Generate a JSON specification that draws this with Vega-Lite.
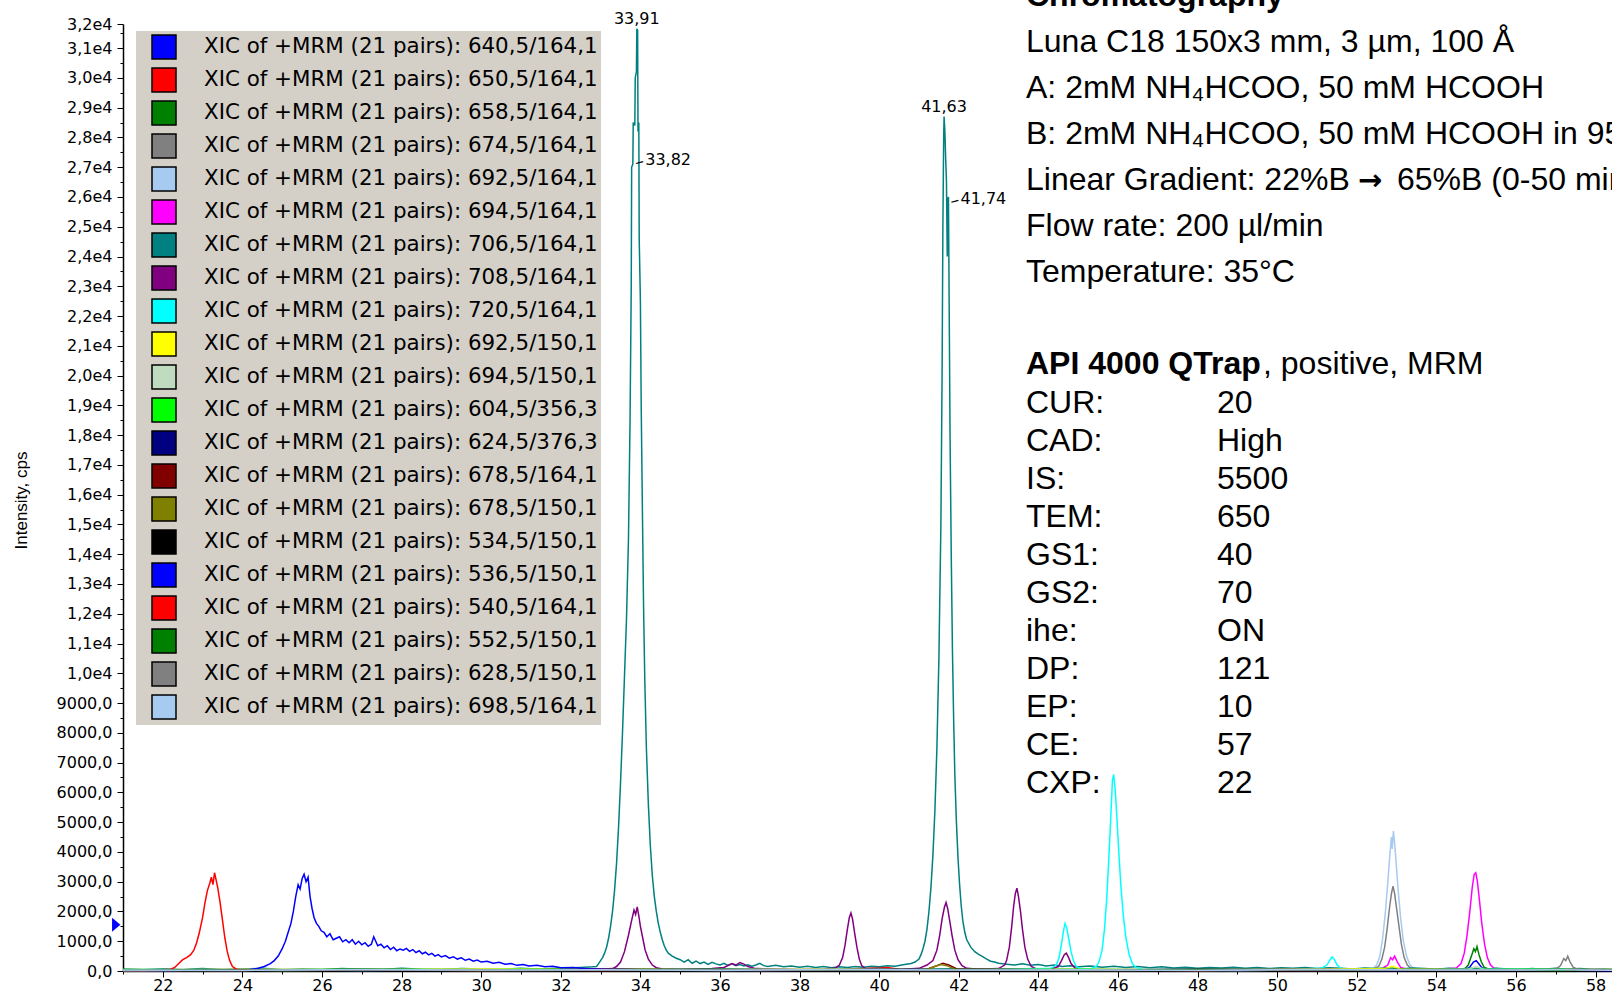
{
"$schema":"https://vega.github.io/schema/vega-lite/v6.json",
"width":1489,"height":947,
"autosize":{"type":"none"},
"padding":{"left":123,"top":24,"right":0,"bottom":23},
"background":"white",
"config":{"view":{"stroke":null},"font":"DejaVu Sans"},
"datasets":{
"series":[{"m":1,"pair":"640,5/164,1"},{"m":2,"pair":"650,5/164,1"},{"m":3,"pair":"658,5/164,1"},{"m":4,"pair":"674,5/164,1"},{"m":5,"pair":"692,5/164,1"},{"m":6,"pair":"694,5/164,1"},{"m":7,"pair":"706,5/164,1"},{"m":8,"pair":"708,5/164,1"},{"m":9,"pair":"720,5/164,1"},{"m":10,"pair":"692,5/150,1"},{"m":11,"pair":"694,5/150,1"},{"m":12,"pair":"604,5/356,3"},{"m":13,"pair":"624,5/376,3"},{"m":14,"pair":"678,5/164,1"},{"m":15,"pair":"678,5/150,1"},{"m":16,"pair":"534,5/150,1"},{"m":17,"pair":"536,5/150,1"},{"m":18,"pair":"540,5/164,1"},{"m":19,"pair":"552,5/150,1"},{"m":20,"pair":"628,5/150,1"},{"m":21,"pair":"698,5/164,1"}],
"traces":[
{"m":1,"t":21,"i":20},{"m":1,"t":25,"i":40},{"m":1,"t":29,"i":30},{"m":1,"t":33,"i":50},{"m":1,"t":37,"i":20},{"m":1,"t":41,"i":40},{"m":1,"t":45,"i":30},{"m":1,"t":49,"i":50},{"m":1,"t":53,"i":20},{"m":1,"t":54.75,"i":50},{"m":1,"t":54.85,"i":150},{"m":1,"t":54.93,"i":300},{"m":1,"t":55.0,"i":350},{"m":1,"t":55.06,"i":250},{"m":1,"t":55.14,"i":110},{"m":1,"t":55.3,"i":40},{"m":1,"t":57,"i":30},{"m":1,"t":58.5,"i":20},
{"m":2,"t":21,"i":20},{"m":2,"t":24,"i":40},{"m":2,"t":27,"i":30},{"m":2,"t":30,"i":50},{"m":2,"t":33,"i":20},{"m":2,"t":36,"i":40},{"m":2,"t":39,"i":60},{"m":2,"t":40.2,"i":120},{"m":2,"t":40.5,"i":60},{"m":2,"t":42,"i":30},{"m":2,"t":45,"i":50},{"m":2,"t":48,"i":40},{"m":2,"t":51,"i":20},{"m":2,"t":54,"i":40},{"m":2,"t":57,"i":30},{"m":2,"t":58.5,"i":50},
{"m":3,"t":21,"i":40},{"m":3,"t":25,"i":20},{"m":3,"t":29,"i":50},{"m":3,"t":33,"i":30},{"m":3,"t":37,"i":40},{"m":3,"t":41,"i":60},{"m":3,"t":45,"i":30},{"m":3,"t":49,"i":50},{"m":3,"t":53,"i":40},{"m":3,"t":54.7,"i":60},{"m":3,"t":54.8,"i":200},{"m":3,"t":54.88,"i":500},{"m":3,"t":54.94,"i":750},{"m":3,"t":54.98,"i":650},{"m":3,"t":55.02,"i":820},{"m":3,"t":55.07,"i":550},{"m":3,"t":55.13,"i":300},{"m":3,"t":55.2,"i":120},{"m":3,"t":55.35,"i":50},{"m":3,"t":57,"i":40},{"m":3,"t":58.5,"i":30},
{"m":4,"t":21,"i":30},{"m":4,"t":25,"i":20},{"m":4,"t":29,"i":40},{"m":4,"t":33,"i":30},{"m":4,"t":37,"i":50},{"m":4,"t":41,"i":20},{"m":4,"t":45,"i":40},{"m":4,"t":49,"i":30},{"m":4,"t":52.4,"i":60},{"m":4,"t":52.55,"i":150},{"m":4,"t":52.63,"i":400},{"m":4,"t":52.7,"i":800},{"m":4,"t":52.76,"i":1400},{"m":4,"t":52.82,"i":2100},{"m":4,"t":52.87,"i":2600},{"m":4,"t":52.91,"i":2850},{"m":4,"t":52.95,"i":2600},{"m":4,"t":53.0,"i":2100},{"m":4,"t":53.06,"i":1500},{"m":4,"t":53.12,"i":900},{"m":4,"t":53.19,"i":450},{"m":4,"t":53.27,"i":200},{"m":4,"t":53.36,"i":90},{"m":4,"t":53.6,"i":40},{"m":4,"t":55,"i":30},{"m":4,"t":57,"i":50},{"m":4,"t":58.5,"i":20},
{"m":5,"t":21,"i":20},{"m":5,"t":26,"i":40},{"m":5,"t":31,"i":30},{"m":5,"t":36,"i":50},{"m":5,"t":41,"i":40},{"m":5,"t":46,"i":30},{"m":5,"t":51,"i":40},{"m":5,"t":52.4,"i":80},{"m":5,"t":52.5,"i":200},{"m":5,"t":52.58,"i":500},{"m":5,"t":52.65,"i":1100},{"m":5,"t":52.72,"i":2000},{"m":5,"t":52.78,"i":3000},{"m":5,"t":52.83,"i":3900},{"m":5,"t":52.87,"i":4500},{"m":5,"t":52.89,"i":4100},{"m":5,"t":52.92,"i":4700},{"m":5,"t":52.95,"i":4300},{"m":5,"t":52.99,"i":3600},{"m":5,"t":53.04,"i":2700},{"m":5,"t":53.1,"i":1800},{"m":5,"t":53.17,"i":1000},{"m":5,"t":53.25,"i":500},{"m":5,"t":53.33,"i":220},{"m":5,"t":53.42,"i":100},{"m":5,"t":53.6,"i":50},{"m":5,"t":55,"i":40},{"m":5,"t":57,"i":60},{"m":5,"t":58.5,"i":30},
{"m":6,"t":21,"i":20},{"m":6,"t":25,"i":40},{"m":6,"t":30,"i":30},{"m":6,"t":35,"i":50},{"m":6,"t":40,"i":40},{"m":6,"t":45,"i":30},{"m":6,"t":50,"i":50},{"m":6,"t":52.6,"i":60},{"m":6,"t":52.78,"i":200},{"m":6,"t":52.85,"i":450},{"m":6,"t":52.9,"i":380},{"m":6,"t":52.95,"i":500},{"m":6,"t":53.02,"i":300},{"m":6,"t":53.1,"i":120},{"m":6,"t":53.3,"i":50},{"m":6,"t":54.0,"i":40},{"m":6,"t":54.5,"i":100},{"m":6,"t":54.62,"i":250},{"m":6,"t":54.7,"i":600},{"m":6,"t":54.77,"i":1200},{"m":6,"t":54.84,"i":2000},{"m":6,"t":54.9,"i":2800},{"m":6,"t":54.95,"i":3250},{"m":6,"t":54.99,"i":3300},{"m":6,"t":55.03,"i":3000},{"m":6,"t":55.08,"i":2400},{"m":6,"t":55.14,"i":1600},{"m":6,"t":55.21,"i":900},{"m":6,"t":55.28,"i":450},{"m":6,"t":55.36,"i":200},{"m":6,"t":55.45,"i":90},{"m":6,"t":55.7,"i":50},{"m":6,"t":56.5,"i":40},{"m":6,"t":57.5,"i":60},{"m":6,"t":58.5,"i":30},
{"m":7,"t":21.0,"i":60},{"m":7,"t":21.5,"i":40},{"m":7,"t":22.0,"i":70},{"m":7,"t":22.5,"i":50},{"m":7,"t":23.0,"i":80},{"m":7,"t":23.5,"i":40},{"m":7,"t":24.0,"i":60},{"m":7,"t":24.5,"i":90},{"m":7,"t":25.0,"i":50},{"m":7,"t":25.5,"i":70},{"m":7,"t":26.0,"i":40},{"m":7,"t":26.5,"i":80},{"m":7,"t":27.0,"i":60},{"m":7,"t":27.5,"i":50},{"m":7,"t":28.0,"i":90},{"m":7,"t":28.5,"i":60},{"m":7,"t":29.0,"i":40},{"m":7,"t":29.5,"i":80},{"m":7,"t":30.0,"i":70},{"m":7,"t":30.5,"i":50},{"m":7,"t":31.0,"i":90},{"m":7,"t":31.5,"i":60},{"m":7,"t":32.0,"i":100},{"m":7,"t":32.5,"i":120},{"m":7,"t":32.8,"i":140},
{"m":7,"t":32.9,"i":150},{"m":7,"t":32.95,"i":250},{"m":7,"t":33.0,"i":350},{"m":7,"t":33.05,"i":450},{"m":7,"t":33.1,"i":600},{"m":7,"t":33.15,"i":800},{"m":7,"t":33.2,"i":1100},{"m":7,"t":33.25,"i":1500},{"m":7,"t":33.3,"i":2000},{"m":7,"t":33.35,"i":2700},{"m":7,"t":33.4,"i":3600},{"m":7,"t":33.45,"i":4800},{"m":7,"t":33.5,"i":6300},{"m":7,"t":33.55,"i":8000},{"m":7,"t":33.6,"i":9900},{"m":7,"t":33.65,"i":11800},{"m":7,"t":33.7,"i":14500},{"m":7,"t":33.74,"i":18500},{"m":7,"t":33.77,"i":23000},{"m":7,"t":33.78,"i":27000},{"m":7,"t":33.81,"i":27100},{"m":7,"t":33.82,"i":28500},{"m":7,"t":33.86,"i":28400},{"m":7,"t":33.87,"i":30000},{"m":7,"t":33.9,"i":30200},{"m":7,"t":33.91,"i":31650},{"m":7,"t":33.93,"i":31600},{"m":7,"t":33.94,"i":28200},{"m":7,"t":33.96,"i":28500},{"m":7,"t":33.97,"i":24600},{"m":7,"t":34.0,"i":22500},{"m":7,"t":34.02,"i":19000},{"m":7,"t":34.05,"i":15500},{"m":7,"t":34.08,"i":12200},{"m":7,"t":34.11,"i":9800},{"m":7,"t":34.15,"i":7500},{"m":7,"t":34.2,"i":5600},{"m":7,"t":34.25,"i":4200},{"m":7,"t":34.3,"i":3200},{"m":7,"t":34.35,"i":2500},{"m":7,"t":34.4,"i":2000},{"m":7,"t":34.45,"i":1600},{"m":7,"t":34.5,"i":1300},{"m":7,"t":34.55,"i":1050},{"m":7,"t":34.6,"i":850},{"m":7,"t":34.65,"i":700},{"m":7,"t":34.7,"i":600},{"m":7,"t":34.8,"i":500},{"m":7,"t":34.9,"i":430},{"m":7,"t":35.0,"i":380},{"m":7,"t":35.1,"i":300},{"m":7,"t":35.2,"i":380},{"m":7,"t":35.3,"i":260},{"m":7,"t":35.4,"i":330},{"m":7,"t":35.5,"i":250},{"m":7,"t":35.6,"i":300},{"m":7,"t":35.7,"i":220},{"m":7,"t":35.8,"i":290},{"m":7,"t":35.9,"i":240},{"m":7,"t":36.0,"i":200},{"m":7,"t":36.1,"i":260},{"m":7,"t":36.2,"i":190},{"m":7,"t":36.3,"i":240},{"m":7,"t":36.4,"i":180},{"m":7,"t":36.5,"i":220},{"m":7,"t":36.6,"i":170},{"m":7,"t":36.7,"i":210},{"m":7,"t":36.8,"i":160},{"m":7,"t":36.9,"i":200},{"m":7,"t":37.0,"i":260},{"m":7,"t":37.1,"i":180},{"m":7,"t":37.2,"i":150},{"m":7,"t":37.4,"i":190},{"m":7,"t":37.6,"i":140},{"m":7,"t":37.8,"i":170},{"m":7,"t":38.0,"i":130},{"m":7,"t":38.2,"i":160},{"m":7,"t":38.4,"i":120},{"m":7,"t":38.6,"i":150},{"m":7,"t":38.8,"i":110},{"m":7,"t":39.0,"i":140},{"m":7,"t":39.2,"i":120},{"m":7,"t":39.4,"i":150},{"m":7,"t":39.6,"i":130},{"m":7,"t":39.8,"i":160},{"m":7,"t":40.0,"i":140},{"m":7,"t":40.2,"i":180},{"m":7,"t":40.4,"i":160},{"m":7,"t":40.6,"i":210},{"m":7,"t":40.8,"i":250},{"m":7,"t":40.9,"i":300},
{"m":7,"t":41.0,"i":400},{"m":7,"t":41.05,"i":550},{"m":7,"t":41.1,"i":750},{"m":7,"t":41.15,"i":1000},{"m":7,"t":41.2,"i":1400},{"m":7,"t":41.25,"i":2000},{"m":7,"t":41.3,"i":2800},{"m":7,"t":41.35,"i":3900},{"m":7,"t":41.4,"i":5400},{"m":7,"t":41.45,"i":7500},{"m":7,"t":41.5,"i":10500},{"m":7,"t":41.55,"i":15000},{"m":7,"t":41.58,"i":20000},{"m":7,"t":41.6,"i":25000},{"m":7,"t":41.62,"i":28000},{"m":7,"t":41.63,"i":28700},{"m":7,"t":41.65,"i":28200},{"m":7,"t":41.67,"i":27300},{"m":7,"t":41.69,"i":26500},{"m":7,"t":41.71,"i":24000},{"m":7,"t":41.72,"i":25900},{"m":7,"t":41.74,"i":26000},{"m":7,"t":41.76,"i":22000},{"m":7,"t":41.78,"i":18000},{"m":7,"t":41.81,"i":14000},{"m":7,"t":41.84,"i":10800},{"m":7,"t":41.87,"i":8500},{"m":7,"t":41.9,"i":6600},{"m":7,"t":41.94,"i":5000},{"m":7,"t":41.98,"i":3800},{"m":7,"t":42.02,"i":2900},{"m":7,"t":42.06,"i":2200},{"m":7,"t":42.1,"i":1700},{"m":7,"t":42.15,"i":1300},{"m":7,"t":42.2,"i":1050},{"m":7,"t":42.3,"i":800},{"m":7,"t":42.4,"i":650},{"m":7,"t":42.5,"i":560},{"m":7,"t":42.6,"i":480},{"m":7,"t":42.7,"i":400},{"m":7,"t":42.8,"i":330},{"m":7,"t":42.9,"i":300},{"m":7,"t":43.0,"i":260},
{"m":7,"t":43.2,"i":230},{"m":7,"t":43.4,"i":200},{"m":7,"t":43.6,"i":240},{"m":7,"t":43.8,"i":190},{"m":7,"t":44.0,"i":220},{"m":7,"t":44.2,"i":170},{"m":7,"t":44.4,"i":200},{"m":7,"t":44.6,"i":150},{"m":7,"t":44.8,"i":180},{"m":7,"t":45.0,"i":140},{"m":7,"t":45.3,"i":170},{"m":7,"t":45.6,"i":130},{"m":7,"t":45.9,"i":160},{"m":7,"t":46.2,"i":120},{"m":7,"t":46.5,"i":150},{"m":7,"t":46.8,"i":110},{"m":7,"t":47.1,"i":140},{"m":7,"t":47.4,"i":100},{"m":7,"t":47.7,"i":130},{"m":7,"t":48.0,"i":90},{"m":7,"t":48.3,"i":120},{"m":7,"t":48.6,"i":100},{"m":7,"t":48.9,"i":130},{"m":7,"t":49.2,"i":90},{"m":7,"t":49.5,"i":120},{"m":7,"t":49.8,"i":80},{"m":7,"t":50.1,"i":110},{"m":7,"t":50.4,"i":90},{"m":7,"t":50.7,"i":120},{"m":7,"t":51.0,"i":80},{"m":7,"t":51.3,"i":110},{"m":7,"t":51.6,"i":90},{"m":7,"t":51.9,"i":70},{"m":7,"t":52.2,"i":100},{"m":7,"t":52.5,"i":80},{"m":7,"t":52.8,"i":110},{"m":7,"t":53.1,"i":70},{"m":7,"t":53.4,"i":100},{"m":7,"t":53.7,"i":80},{"m":7,"t":54.0,"i":60},{"m":7,"t":54.3,"i":90},{"m":7,"t":54.6,"i":70},{"m":7,"t":54.9,"i":100},{"m":7,"t":55.2,"i":60},{"m":7,"t":55.5,"i":90},{"m":7,"t":55.8,"i":70},{"m":7,"t":56.1,"i":50},{"m":7,"t":56.4,"i":80},{"m":7,"t":56.7,"i":60},{"m":7,"t":57.0,"i":90},{"m":7,"t":57.3,"i":50},{"m":7,"t":57.6,"i":80},{"m":7,"t":57.9,"i":60},{"m":7,"t":58.2,"i":70},{"m":7,"t":58.5,"i":50},
{"m":8,"t":21,"i":20},{"m":8,"t":24,"i":40},{"m":8,"t":27,"i":30},{"m":8,"t":30,"i":50},{"m":8,"t":32,"i":40},{"m":8,"t":33.0,"i":60},{"m":8,"t":33.3,"i":80},{"m":8,"t":33.4,"i":150},{"m":8,"t":33.5,"i":300},{"m":8,"t":33.6,"i":650},{"m":8,"t":33.7,"i":1200},{"m":8,"t":33.78,"i":1700},{"m":8,"t":33.84,"i":2050},{"m":8,"t":33.88,"i":1900},{"m":8,"t":33.92,"i":2150},{"m":8,"t":33.96,"i":1850},{"m":8,"t":34.0,"i":1500},{"m":8,"t":34.06,"i":1100},{"m":8,"t":34.12,"i":700},{"m":8,"t":34.2,"i":400},{"m":8,"t":34.3,"i":200},{"m":8,"t":34.4,"i":110},{"m":8,"t":34.55,"i":70},{"m":8,"t":35.0,"i":50},{"m":8,"t":35.8,"i":80},{"m":8,"t":36.1,"i":120},{"m":8,"t":36.3,"i":250},{"m":8,"t":36.4,"i":200},{"m":8,"t":36.5,"i":280},{"m":8,"t":36.6,"i":230},{"m":8,"t":36.7,"i":150},{"m":8,"t":36.9,"i":80},{"m":8,"t":37.5,"i":60},{"m":8,"t":38.0,"i":40},{"m":8,"t":38.6,"i":60},{"m":8,"t":38.9,"i":100},{"m":8,"t":39.0,"i":200},{"m":8,"t":39.08,"i":450},{"m":8,"t":39.14,"i":850},{"m":8,"t":39.2,"i":1400},{"m":8,"t":39.25,"i":1800},{"m":8,"t":39.29,"i":1950},{"m":8,"t":39.33,"i":1750},{"m":8,"t":39.38,"i":1300},{"m":8,"t":39.44,"i":800},{"m":8,"t":39.5,"i":400},{"m":8,"t":39.56,"i":180},{"m":8,"t":39.65,"i":80},{"m":8,"t":40.0,"i":50},{"m":8,"t":40.6,"i":60},{"m":8,"t":41.0,"i":90},{"m":8,"t":41.2,"i":200},{"m":8,"t":41.35,"i":350},{"m":8,"t":41.45,"i":700},{"m":8,"t":41.52,"i":1200},{"m":8,"t":41.58,"i":1750},{"m":8,"t":41.64,"i":2150},{"m":8,"t":41.68,"i":2300},{"m":8,"t":41.72,"i":2100},{"m":8,"t":41.77,"i":1700},{"m":8,"t":41.83,"i":1200},{"m":8,"t":41.9,"i":700},{"m":8,"t":41.98,"i":380},{"m":8,"t":42.08,"i":180},{"m":8,"t":42.2,"i":90},{"m":8,"t":42.5,"i":60},{"m":8,"t":43.0,"i":80},{"m":8,"t":43.15,"i":200},{"m":8,"t":43.2,"i":350},{"m":8,"t":43.27,"i":800},{"m":8,"t":43.33,"i":1500},{"m":8,"t":43.38,"i":2200},{"m":8,"t":43.42,"i":2600},{"m":8,"t":43.46,"i":2780},{"m":8,"t":43.5,"i":2500},{"m":8,"t":43.55,"i":2000},{"m":8,"t":43.6,"i":1400},{"m":8,"t":43.66,"i":800},{"m":8,"t":43.73,"i":400},{"m":8,"t":43.82,"i":150},{"m":8,"t":43.95,"i":70},{"m":8,"t":44.3,"i":60},{"m":8,"t":44.5,"i":150},{"m":8,"t":44.58,"i":350},{"m":8,"t":44.65,"i":550},{"m":8,"t":44.7,"i":600},{"m":8,"t":44.76,"i":450},{"m":8,"t":44.82,"i":250},{"m":8,"t":44.92,"i":100},{"m":8,"t":45.1,"i":50},{"m":8,"t":46,"i":40},{"m":8,"t":48,"i":60},{"m":8,"t":50,"i":30},{"m":8,"t":52,"i":50},{"m":8,"t":54,"i":40},{"m":8,"t":56,"i":60},{"m":8,"t":58.5,"i":40},
{"m":9,"t":21,"i":30},{"m":9,"t":24,"i":50},{"m":9,"t":27,"i":20},{"m":9,"t":30,"i":60},{"m":9,"t":33,"i":40},{"m":9,"t":36,"i":50},{"m":9,"t":39,"i":30},{"m":9,"t":42,"i":60},{"m":9,"t":44.3,"i":80},{"m":9,"t":44.45,"i":200},{"m":9,"t":44.52,"i":450},{"m":9,"t":44.58,"i":900},{"m":9,"t":44.63,"i":1350},{"m":9,"t":44.67,"i":1600},{"m":9,"t":44.71,"i":1450},{"m":9,"t":44.76,"i":1100},{"m":9,"t":44.82,"i":650},{"m":9,"t":44.88,"i":350},{"m":9,"t":44.95,"i":150},{"m":9,"t":45.05,"i":80},{"m":9,"t":45.3,"i":70},{"m":9,"t":45.45,"i":150},{"m":9,"t":45.52,"i":300},{"m":9,"t":45.6,"i":700},{"m":9,"t":45.66,"i":1400},{"m":9,"t":45.72,"i":2500},{"m":9,"t":45.77,"i":3800},{"m":9,"t":45.82,"i":5200},{"m":9,"t":45.86,"i":6400},{"m":9,"t":45.89,"i":6600},{"m":9,"t":45.93,"i":6100},{"m":9,"t":45.97,"i":5200},{"m":9,"t":46.02,"i":4000},{"m":9,"t":46.07,"i":2900},{"m":9,"t":46.13,"i":1900},{"m":9,"t":46.2,"i":1100},{"m":9,"t":46.28,"i":550},{"m":9,"t":46.36,"i":250},{"m":9,"t":46.45,"i":120},{"m":9,"t":46.6,"i":60},{"m":9,"t":47.5,"i":50},{"m":9,"t":49,"i":40},{"m":9,"t":50.5,"i":60},{"m":9,"t":51.1,"i":90},{"m":9,"t":51.25,"i":200},{"m":9,"t":51.33,"i":380},{"m":9,"t":51.38,"i":470},{"m":9,"t":51.43,"i":400},{"m":9,"t":51.5,"i":220},{"m":9,"t":51.6,"i":80},{"m":9,"t":52.5,"i":50},{"m":9,"t":54,"i":40},{"m":9,"t":56,"i":60},{"m":9,"t":58.5,"i":30},
{"m":10,"t":21,"i":30},{"m":10,"t":24,"i":60},{"m":10,"t":27,"i":40},{"m":10,"t":30,"i":70},{"m":10,"t":33,"i":50},{"m":10,"t":36,"i":40},{"m":10,"t":39,"i":60},{"m":10,"t":42,"i":30},{"m":10,"t":45,"i":50},{"m":10,"t":48,"i":40},{"m":10,"t":51,"i":60},{"m":10,"t":52.7,"i":80},{"m":10,"t":52.9,"i":160},{"m":10,"t":53.1,"i":70},{"m":10,"t":55,"i":40},{"m":10,"t":58.5,"i":50},
{"m":11,"t":21,"i":20},{"m":11,"t":25,"i":50},{"m":11,"t":29,"i":30},{"m":11,"t":33,"i":40},{"m":11,"t":37,"i":60},{"m":11,"t":41,"i":30},{"m":11,"t":45,"i":50},{"m":11,"t":49,"i":20},{"m":11,"t":53,"i":40},{"m":11,"t":54.8,"i":60},{"m":11,"t":55.0,"i":150},{"m":11,"t":55.2,"i":60},{"m":11,"t":57,"i":40},{"m":11,"t":58.5,"i":20},
{"m":12,"t":21,"i":50},{"m":12,"t":24,"i":30},{"m":12,"t":27,"i":60},{"m":12,"t":30,"i":40},{"m":12,"t":33,"i":70},{"m":12,"t":36,"i":30},{"m":12,"t":39,"i":50},{"m":12,"t":42,"i":40},{"m":12,"t":45,"i":60},{"m":12,"t":48,"i":30},{"m":12,"t":51,"i":50},{"m":12,"t":54,"i":40},{"m":12,"t":57,"i":60},{"m":12,"t":58.5,"i":30},
{"m":13,"t":21,"i":30},{"m":13,"t":24,"i":50},{"m":13,"t":27,"i":20},{"m":13,"t":30,"i":40},{"m":13,"t":33,"i":30},{"m":13,"t":36,"i":50},{"m":13,"t":39,"i":20},{"m":13,"t":42,"i":60},{"m":13,"t":45,"i":30},{"m":13,"t":48,"i":50},{"m":13,"t":51,"i":20},{"m":13,"t":54,"i":40},{"m":13,"t":57,"i":30},{"m":13,"t":58.5,"i":40},
{"m":14,"t":21,"i":40},{"m":14,"t":24,"i":20},{"m":14,"t":27,"i":50},{"m":14,"t":30,"i":30},{"m":14,"t":33,"i":60},{"m":14,"t":36,"i":40},{"m":14,"t":39,"i":30},{"m":14,"t":41.2,"i":60},{"m":14,"t":41.45,"i":180},{"m":14,"t":41.6,"i":260},{"m":14,"t":41.75,"i":200},{"m":14,"t":41.95,"i":70},{"m":14,"t":44,"i":40},{"m":14,"t":47,"i":30},{"m":14,"t":50,"i":50},{"m":14,"t":53,"i":30},{"m":14,"t":56,"i":40},{"m":14,"t":58.5,"i":20},
{"m":15,"t":21,"i":20},{"m":15,"t":25,"i":40},{"m":15,"t":29,"i":30},{"m":15,"t":33,"i":50},{"m":15,"t":37,"i":20},{"m":15,"t":41.2,"i":50},{"m":15,"t":41.4,"i":150},{"m":15,"t":41.55,"i":220},{"m":15,"t":41.7,"i":180},{"m":15,"t":41.9,"i":60},{"m":15,"t":45,"i":40},{"m":15,"t":49,"i":20},{"m":15,"t":53,"i":50},{"m":15,"t":57,"i":30},{"m":15,"t":58.5,"i":40},
{"m":16,"t":21,"i":10},{"m":16,"t":24,"i":30},{"m":16,"t":27,"i":20},{"m":16,"t":30,"i":40},{"m":16,"t":33,"i":20},{"m":16,"t":36,"i":30},{"m":16,"t":39,"i":10},{"m":16,"t":42,"i":30},{"m":16,"t":45,"i":20},{"m":16,"t":48,"i":40},{"m":16,"t":51,"i":20},{"m":16,"t":54,"i":30},{"m":16,"t":57,"i":10},{"m":16,"t":58.5,"i":20},
{"m":17,"t":21,"i":30},{"m":17,"t":22,"i":20},{"m":17,"t":23,"i":40},{"m":17,"t":23.8,"i":30},{"m":17,"t":24.2,"i":50},{"m":17,"t":24.4,"i":90},{"m":17,"t":24.55,"i":150},{"m":17,"t":24.7,"i":250},{"m":17,"t":24.8,"i":350},{"m":17,"t":24.9,"i":500},{"m":17,"t":25.0,"i":750},{"m":17,"t":25.08,"i":1000},{"m":17,"t":25.15,"i":1300},{"m":17,"t":25.22,"i":1600},{"m":17,"t":25.28,"i":2000},{"m":17,"t":25.34,"i":2500},{"m":17,"t":25.4,"i":2900},{"m":17,"t":25.45,"i":2750},{"m":17,"t":25.5,"i":3100},{"m":17,"t":25.55,"i":3250},{"m":17,"t":25.6,"i":3000},{"m":17,"t":25.65,"i":3150},{"m":17,"t":25.7,"i":2500},{"m":17,"t":25.75,"i":2100},{"m":17,"t":25.8,"i":1800},{"m":17,"t":25.86,"i":1600},{"m":17,"t":25.92,"i":1500},{"m":17,"t":25.98,"i":1350},{"m":17,"t":26.05,"i":1300},{"m":17,"t":26.12,"i":1150},{"m":17,"t":26.2,"i":1250},{"m":17,"t":26.28,"i":1050},{"m":17,"t":26.36,"i":1100},{"m":17,"t":26.44,"i":1150},{"m":17,"t":26.52,"i":980},{"m":17,"t":26.6,"i":1050},{"m":17,"t":26.68,"i":950},{"m":17,"t":26.76,"i":1050},{"m":17,"t":26.84,"i":900},{"m":17,"t":26.92,"i":1000},{"m":17,"t":27.0,"i":880},{"m":17,"t":27.08,"i":950},{"m":17,"t":27.16,"i":830},{"m":17,"t":27.24,"i":900},{"m":17,"t":27.3,"i":1150},{"m":17,"t":27.4,"i":850},{"m":17,"t":27.48,"i":900},{"m":17,"t":27.56,"i":780},{"m":17,"t":27.64,"i":850},{"m":17,"t":27.72,"i":720},{"m":17,"t":27.8,"i":800},{"m":17,"t":27.88,"i":680},{"m":17,"t":27.96,"i":740},{"m":17,"t":28.04,"i":700},{"m":17,"t":28.12,"i":760},{"m":17,"t":28.2,"i":660},{"m":17,"t":28.28,"i":720},{"m":17,"t":28.36,"i":620},{"m":17,"t":28.44,"i":680},{"m":17,"t":28.52,"i":580},{"m":17,"t":28.6,"i":630},{"m":17,"t":28.68,"i":540},{"m":17,"t":28.76,"i":590},{"m":17,"t":28.84,"i":500},{"m":17,"t":28.92,"i":550},{"m":17,"t":29.0,"i":470},{"m":17,"t":29.1,"i":520},{"m":17,"t":29.2,"i":430},{"m":17,"t":29.3,"i":480},{"m":17,"t":29.4,"i":400},{"m":17,"t":29.5,"i":440},{"m":17,"t":29.6,"i":360},{"m":17,"t":29.7,"i":400},{"m":17,"t":29.8,"i":330},{"m":17,"t":29.9,"i":370},{"m":17,"t":30.0,"i":300},{"m":17,"t":30.15,"i":330},{"m":17,"t":30.3,"i":260},{"m":17,"t":30.45,"i":290},{"m":17,"t":30.6,"i":230},{"m":17,"t":30.75,"i":250},{"m":17,"t":30.9,"i":190},{"m":17,"t":31.05,"i":220},{"m":17,"t":31.2,"i":170},{"m":17,"t":31.4,"i":190},{"m":17,"t":31.6,"i":140},{"m":17,"t":31.8,"i":160},{"m":17,"t":32.0,"i":110},{"m":17,"t":32.3,"i":120},{"m":17,"t":32.6,"i":80},{"m":17,"t":33.0,"i":70},{"m":17,"t":34,"i":40},{"m":17,"t":37,"i":30},{"m":17,"t":40,"i":50},{"m":17,"t":43,"i":30},{"m":17,"t":46,"i":40},{"m":17,"t":49,"i":20},{"m":17,"t":52,"i":30},{"m":17,"t":55,"i":40},{"m":17,"t":58.5,"i":20},
{"m":18,"t":21,"i":30},{"m":18,"t":21.5,"i":20},{"m":18,"t":22.0,"i":40},{"m":18,"t":22.2,"i":60},{"m":18,"t":22.3,"i":120},{"m":18,"t":22.4,"i":250},{"m":18,"t":22.5,"i":380},{"m":18,"t":22.6,"i":450},{"m":18,"t":22.7,"i":550},{"m":18,"t":22.78,"i":700},{"m":18,"t":22.85,"i":950},{"m":18,"t":22.92,"i":1300},{"m":18,"t":23.0,"i":1800},{"m":18,"t":23.06,"i":2300},{"m":18,"t":23.12,"i":2700},{"m":18,"t":23.18,"i":2950},{"m":18,"t":23.22,"i":3150},{"m":18,"t":23.26,"i":2900},{"m":18,"t":23.3,"i":3300},{"m":18,"t":23.34,"i":3050},{"m":18,"t":23.38,"i":2800},{"m":18,"t":23.44,"i":2300},{"m":18,"t":23.5,"i":1700},{"m":18,"t":23.56,"i":1100},{"m":18,"t":23.62,"i":650},{"m":18,"t":23.68,"i":350},{"m":18,"t":23.75,"i":150},{"m":18,"t":23.85,"i":60},{"m":18,"t":24.0,"i":30},{"m":18,"t":27,"i":40},{"m":18,"t":30,"i":20},{"m":18,"t":33,"i":50},{"m":18,"t":36,"i":30},{"m":18,"t":39,"i":40},{"m":18,"t":42,"i":30},{"m":18,"t":45,"i":40},{"m":18,"t":48,"i":20},{"m":18,"t":51,"i":50},{"m":18,"t":54,"i":30},{"m":18,"t":57,"i":40},{"m":18,"t":58.5,"i":20},
{"m":19,"t":21,"i":50},{"m":19,"t":24,"i":30},{"m":19,"t":27,"i":60},{"m":19,"t":30,"i":20},{"m":19,"t":33,"i":40},{"m":19,"t":36,"i":60},{"m":19,"t":39,"i":30},{"m":19,"t":42,"i":50},{"m":19,"t":45,"i":20},{"m":19,"t":48,"i":60},{"m":19,"t":51,"i":30},{"m":19,"t":54,"i":50},{"m":19,"t":57,"i":20},{"m":19,"t":58.5,"i":40},
{"m":20,"t":21,"i":10},{"m":20,"t":26,"i":30},{"m":20,"t":31,"i":20},{"m":20,"t":36,"i":40},{"m":20,"t":41,"i":30},{"m":20,"t":46,"i":20},{"m":20,"t":51,"i":40},{"m":20,"t":56,"i":30},{"m":20,"t":57.0,"i":60},{"m":20,"t":57.12,"i":180},{"m":20,"t":57.2,"i":420},{"m":20,"t":57.25,"i":350},{"m":20,"t":57.3,"i":500},{"m":20,"t":57.36,"i":300},{"m":20,"t":57.44,"i":120},{"m":20,"t":57.6,"i":40},{"m":20,"t":58.5,"i":30},
{"m":21,"t":21,"i":30},{"m":21,"t":24,"i":20},{"m":21,"t":27,"i":50},{"m":21,"t":30,"i":30},{"m":21,"t":33,"i":40},{"m":21,"t":36,"i":20},{"m":21,"t":39,"i":50},{"m":21,"t":42,"i":30},{"m":21,"t":45,"i":40},{"m":21,"t":48,"i":20},{"m":21,"t":51,"i":50},{"m":21,"t":54,"i":30},{"m":21,"t":57,"i":40},{"m":21,"t":58.5,"i":20}
],
"apexes":[{"t":33.91,"i":31650,"lab":"33,91"},{"t":41.63,"i":28700,"lab":"41,63"}],
"shoulders":[{"t":33.82,"i":27100,"lab":"33,82"},{"t":41.74,"i":25800,"lab":"41,74"}],
"marker":[{"t":20.83,"i":1550}],
"chrom":[
{"line":0,"txt":"Chromatography","role":"heading"},
{"line":1,"txt":"Luna C18 150x3 mm, 3 µm, 100 Å","role":"body"},
{"line":2,"txt":"A: 2mM NH₄HCOO, 50 mM HCOOH","role":"body"},
{"line":3,"txt":"B: 2mM NH₄HCOO, 50 mM HCOOH in 95","role":"body"},
{"line":4,"txt":"Linear Gradient: 22%B","role":"body"},
{"line":4,"txt":"→","role":"arrow"},
{"line":4,"txt":"65%B (0-50 min)","role":"continuation"},
{"line":5,"txt":"Flow rate: 200 µl/min","role":"body"},
{"line":6,"txt":"Temperature: 35°C","role":"body"},
{"line":8,"txt":"API 4000 QTrap","role":"heading"},
{"line":8,"txt":", positive, MRM","role":"note"}
],
"params":[{"j":0,"k":"CUR:","v":"20"},{"j":1,"k":"CAD:","v":"High"},{"j":2,"k":"IS:","v":"5500"},{"j":3,"k":"TEM:","v":"650"},{"j":4,"k":"GS1:","v":"40"},{"j":5,"k":"GS2:","v":"70"},{"j":6,"k":"ihe:","v":"ON"},{"j":7,"k":"DP:","v":"121"},{"j":8,"k":"EP:","v":"10"},{"j":9,"k":"CE:","v":"57"},{"j":10,"k":"CXP:","v":"22"}]
},
"layer":[
{
"encoding":{
"x":{"field":"t","type":"quantitative","scale":{"domain":[21,58.412],"nice":false,"zero":false},
"axis":{"title":null,"values":[21,22,23,24,25,26,27,28,29,30,31,32,33,34,35,36,37,38,39,40,41,42,43,44,45,46,47,48,49,50,51,52,53,54,55,56,57,58],
"labelExpr":"datum.value % 2 === 0 ? format(datum.value, 'd') : ''",
"tickSize":{"condition":{"test":"datum.value % 2 === 0","value":6},"value":3},
"tickColor":"#000000","tickWidth":1,"domainColor":"#000000","domainWidth":1.5,
"labelFont":"DejaVu Sans","labelFontSize":16,"labelColor":"#000000","labelPadding":0,"labelBaseline":"top",
"labelOverlap":false,"labelFlush":false,"grid":false}},
"y":{"field":"i","type":"quantitative","scale":{"domain":[0,31810],"nice":false,"zero":false},
"axis":{"values":[0,500,1000,1500,2000,2500,3000,3500,4000,4500,5000,5500,6000,6500,7000,7500,8000,8500,9000,9500,10000,10500,11000,11500,12000,12500,13000,13500,14000,14500,15000,15500,16000,16500,17000,17500,18000,18500,19000,19500,20000,20500,21000,21500,22000,22500,23000,23500,24000,24500,25000,25500,26000,26500,27000,27500,28000,28500,29000,29500,30000,30500,31000,31500,31810],
"labelExpr":"datum.value > 31600 ? '3,2e4' : (datum.value % 1000 !== 0 ? '' : (datum.value < 10000 ? replace(format(datum.value, '.1f'), '.', ',') : replace(format(datum.value / 10000, '.1f'), '.', ',') + 'e4'))",
"tickSize":{"condition":{"test":"datum.value % 1000 === 0 || datum.value > 31600","value":6},"value":3},
"tickColor":"#000000","tickWidth":1,"domainColor":"#000000","domainWidth":1.5,
"labelFont":"DejaVu Sans","labelFontSize":16,"labelColor":"#000000","labelPadding":5,
"labelOverlap":false,"labelFlush":false,"grid":false,
"title":"Intensity, cps","titleFont":"Liberation Sans","titleFontSize":17,"titleFontWeight":"normal","titleColor":"#000000",
"titleX":-102,"titleY":476,"titleAngle":-90,"titleAlign":"center","titleBaseline":"middle"}}
},
"layer":[
{"data":{"name":"traces"},
"mark":{"type":"line","strokeWidth":1.5},
"encoding":{"stroke":{"field":"m","type":"nominal",
"scale":{"domain":[1,2,3,4,5,6,7,8,9,10,11,12,13,14,15,16,17,18,19,20,21],
"range":["#0000ff","#ff0000","#008000","#808080","#a6caf0","#ff00ff","#008080","#800080","#00ffff","#ffff00","#c0dcc0","#00ff00","#000080","#800000","#808000","#000000","#0000ff","#ff0000","#008000","#808080","#a6caf0"]},
"legend":null}}},
{"data":{"name":"series"},
"transform":[{"filter":"false"}],
"mark":{"type":"square","filled":true,"opacity":1,"stroke":"#000000","strokeWidth":1.5},
"encoding":{"fill":{"field":"pair","type":"nominal",
"scale":{"domain":["640,5/164,1","650,5/164,1","658,5/164,1","674,5/164,1","692,5/164,1","694,5/164,1","706,5/164,1","708,5/164,1","720,5/164,1","692,5/150,1","694,5/150,1","604,5/356,3","624,5/376,3","678,5/164,1","678,5/150,1","534,5/150,1","536,5/150,1","540,5/164,1","552,5/150,1","628,5/150,1","698,5/164,1"],
"range":["#0000ff","#ff0000","#008000","#808080","#a6caf0","#ff00ff","#008080","#800080","#00ffff","#ffff00","#c0dcc0","#00ff00","#000080","#800000","#808000","#000000","#0000ff","#ff0000","#008000","#808080","#a6caf0"]},
"legend":{"orient":"none","legendX":13,"legendY":7,"title":null,"fillColor":"#d4d0c8","padding":3,
"symbolType":"square","symbolSize":576,"symbolStrokeColor":"#000000","symbolStrokeWidth":1.5,"symbolOpacity":1,"symbolOffset":12,
"labelOffset":27,"labelFont":"DejaVu Sans","labelFontSize":21.4,"labelColor":"#000000","labelLimit":0,"rowPadding":3,
"symbolLimit":30,"direction":"vertical","columns":1,
"labelExpr":"'XIC of +MRM (21 pairs): ' + datum.label"}}}},
{"data":{"name":"apexes"},
"mark":{"type":"text","align":"center","baseline":"bottom","dy":-2,"font":"DejaVu Sans","fontSize":16,"fill":"#000000"},
"encoding":{"text":{"field":"lab"}}},
{"data":{"name":"shoulders"},
"mark":{"type":"text","align":"left","baseline":"middle","dx":12,"dy":-4,"font":"DejaVu Sans","fontSize":16,"fill":"#000000"},
"encoding":{"text":{"field":"lab"}}},
{"data":{"name":"shoulders"},
"mark":{"type":"text","align":"left","baseline":"middle","dx":2,"angle":-15,"font":"DejaVu Sans","fontSize":18,"fill":"#000000"},
"encoding":{"text":{"value":"–"}}},
{"data":{"name":"marker"},
"mark":{"type":"point","shape":"M-0.6,-1L0.6,0L-0.6,1Z","filled":true,"fill":"#0000ff","opacity":1,"size":196,"strokeWidth":0}}
]
},
{
"data":{"name":"chrom"},
"encoding":{
"x":{"datum":0,"type":"quantitative","scale":{"domain":[0,1],"range":[903,1094],"nice":false,"zero":false},"axis":null},
"y":{"field":"line","type":"quantitative","scale":{"domain":[0,8],"range":[-18.4,350.4],"nice":false,"zero":false},"axis":null},
"text":{"field":"txt"}
},
"layer":[
{"transform":[{"filter":"datum.role === 'body'"}],"mark":{"type":"text","align":"left","baseline":"alphabetic","font":"Liberation Sans","fontSize":32,"fill":"#000000"}},
{"transform":[{"filter":"datum.role === 'heading'"}],"mark":{"type":"text","align":"left","baseline":"alphabetic","font":"Liberation Sans","fontSize":32,"fontWeight":"bold","fill":"#000000"}},
{"transform":[{"filter":"datum.role === 'note'"}],"mark":{"type":"text","align":"left","baseline":"alphabetic","dx":237,"font":"Liberation Sans","fontSize":32,"fill":"#000000"}},
{"transform":[{"filter":"datum.role === 'arrow'"}],"mark":{"type":"text","align":"left","baseline":"alphabetic","dx":332,"font":"DejaVu Sans","fontSize":29,"fontWeight":"bold","fill":"#000000"}},
{"transform":[{"filter":"datum.role === 'continuation'"}],"mark":{"type":"text","align":"left","baseline":"alphabetic","dx":371,"font":"Liberation Sans","fontSize":32,"fill":"#000000"}}
]
},
{
"data":{"name":"params"},
"encoding":{
"y":{"field":"j","type":"quantitative","scale":{"domain":[0,10],"range":[389.3,769.3],"nice":false,"zero":false},"axis":null}
},
"layer":[
{"mark":{"type":"text","align":"left","baseline":"alphabetic","font":"Liberation Sans","fontSize":32,"fill":"#000000"},
"encoding":{"x":{"datum":0,"type":"quantitative","scale":{"domain":[0,1],"range":[903,1094],"nice":false,"zero":false},"axis":null},"text":{"field":"k"}}},
{"mark":{"type":"text","align":"left","baseline":"alphabetic","font":"Liberation Sans","fontSize":32,"fill":"#000000"},
"encoding":{"x":{"datum":1,"type":"quantitative","scale":{"domain":[0,1],"range":[903,1094],"nice":false,"zero":false},"axis":null},"text":{"field":"v"}}}
]
}
],
"resolve":{"scale":{"x":"independent","y":"independent"}}
}
